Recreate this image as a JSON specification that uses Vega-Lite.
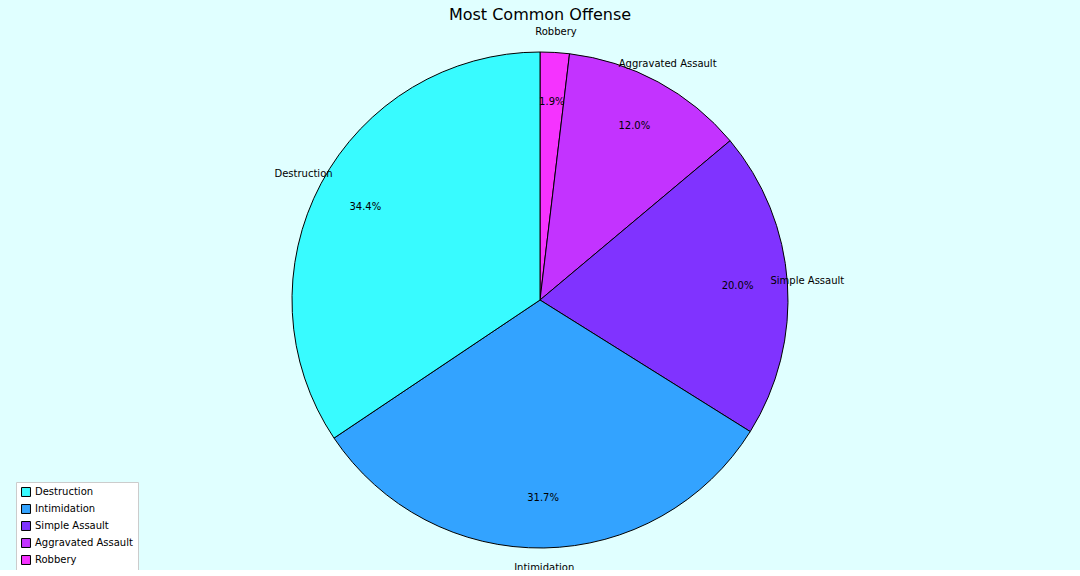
{
  "$schema": "https://vega.github.io/schema/vega-lite/v6.json",
  "autosize": "none",
  "padding": {"top": 30, "left": 0, "right": 0, "bottom": 0},
  "width": 1080,
  "height": 540,
  "background": "#e0ffff",
  "title": {"text": "Most Common Offense", "fontSize": 16, "font": "DejaVu Sans", "fontWeight": "normal", "color": "black", "offset": 4},
  "data": {"values": [
    {"offense": "Robbery", "pct": 1.9, "idx": 0, "label": "1.9%"},
    {"offense": "Aggravated Assault", "pct": 12.0, "idx": 1, "label": "12.0%"},
    {"offense": "Simple Assault", "pct": 20.0, "idx": 2, "label": "20.0%"},
    {"offense": "Intimidation", "pct": 31.7, "idx": 3, "label": "31.7%"},
    {"offense": "Destruction", "pct": 34.4, "idx": 4, "label": "34.4%"}
  ]},
  "encoding": {
    "theta": {"field": "pct", "type": "quantitative", "stack": true},
    "order": {"field": "idx", "type": "quantitative"}
  },
  "layer": [
    {
      "mark": {"type": "arc", "outerRadius": 248, "stroke": "black", "strokeWidth": 1},
      "encoding": {
        "color": {
          "field": "offense", "type": "nominal",
          "scale": {
            "domain": ["Destruction", "Intimidation", "Simple Assault", "Aggravated Assault", "Robbery"],
            "range": ["#38fbff", "#33a3ff", "#8033ff", "#c333ff", "#f533ff"]
          },
          "legend": {
            "title": null, "orient": "none", "legendX": 16, "legendY": 452,
            "symbolType": "square", "symbolStrokeColor": "black", "symbolStrokeWidth": 1,
            "symbolSize": 80, "labelFont": "DejaVu Sans", "labelFontSize": 10, "rowPadding": 3,
            "fillColor": "white", "strokeColor": "#cccccc", "padding": 5, "labelLimit": 200
          }
        }
      }
    },
    {
      "mark": {"type": "text", "radius": 198, "fontSize": 10, "font": "DejaVu Sans", "color": "black"},
      "encoding": {"text": {"field": "label"}}
    },
    {
      "mark": {"type": "text", "radius": 268, "fontSize": 10, "font": "DejaVu Sans", "color": "black"},
      "encoding": {"text": {"field": "offense"}}
    }
  ]
}
